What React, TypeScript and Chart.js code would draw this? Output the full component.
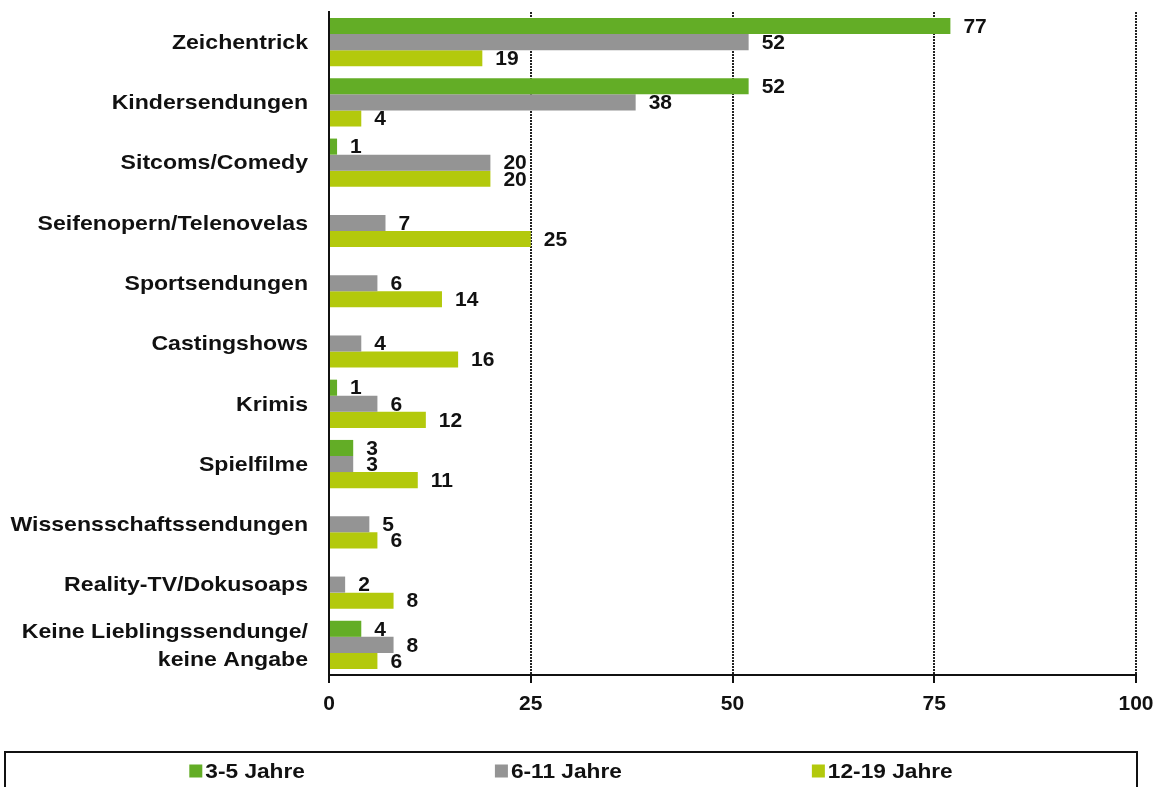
import React, { useEffect, useRef } from "react";
import { Chart, registerables } from "chart.js";

Chart.register(...registerables);

const categories: (string | string[])[] = [
  "Zeichentrick",
  "Kindersendungen",
  "Sitcoms/Comedy",
  "Seifenopern/Telenovelas",
  "Sportsendungen",
  "Castingshows",
  "Krimis",
  "Spielfilme",
  "Wissensschaftssendungen",
  "Reality-TV/Dokusoaps",
  ["Keine Lieblingssendunge/", "keine Angabe"],
];

const age3to5: (number | null)[] = [77, 52, 1, null, null, null, 1, 3, null, null, 4];
const age6to11: (number | null)[] = [52, 38, 20, 7, 6, 4, 6, 3, 5, 2, 8];
const age12to19: (number | null)[] = [19, 4, 20, 25, 14, 16, 12, 11, 6, 8, 6];

const seriesNames = ["3-5 Jahre", "6-11 Jahre", "12-19 Jahre"];
const seriesColors = ["#63ad26", "#949494", "#b3c90c"];

const xTicks = [0, 25, 50, 75, 100];

const FONT = "'Liberation Sans', Arial, sans-serif";

const dataLabelPlugin = {
  id: "dataLabels",
  afterDatasetsDraw(chart: any) {
    const ctx = chart.ctx;
    ctx.save();
    ctx.font = `bold 21px ${FONT}`;
    ctx.fillStyle = "#111";
    ctx.textAlign = "left";
    ctx.textBaseline = "middle";
    chart.data.datasets.forEach((ds: any, di: number) => {
      const meta = chart.getDatasetMeta(di);
      meta.data.forEach((el: any, i: number) => {
        const v = ds.data[i];
        if (v === null || v === undefined) return;
        ctx.fillText(String(v), el.x + 13, el.y + 1);
      });
    });
    ctx.restore();
  },
};

const yLabelPlugin = {
  id: "yLabels",
  afterDraw(chart: any) {
    const ctx = chart.ctx;
    const scale = chart.scales.y;
    const right = chart.chartArea.left - 21;
    ctx.save();
    ctx.font = `bold 21px ${FONT}`;
    ctx.fillStyle = "#111";
    ctx.textAlign = "right";
    ctx.textBaseline = "middle";
    chart.data.labels.forEach((lab: any, i: number) => {
      const lines = Array.isArray(lab) ? lab : [lab];
      const y = scale.getPixelForTick(i);
      const lh = 28;
      lines.forEach((line: string, li: number) => {
        const ly = y + (li - (lines.length - 1) / 2) * lh;
        ctx.save();
        ctx.translate(right, ly);
        ctx.scale(1.1, 1);
        ctx.fillText(line, 0, 1);
        ctx.restore();
      });
    });
    ctx.restore();
  },
};

const legendPlugin = {
  id: "boxLegend",
  afterDraw(chart: any) {
    const ctx = chart.ctx;
    const boxLeft = 5;
    const boxRight = 1137;
    const boxTop = 752;
    ctx.save();
    ctx.strokeStyle = "#111";
    ctx.lineWidth = 2;
    ctx.strokeRect(boxLeft, boxTop, boxRight - boxLeft, 80);
    ctx.font = `bold 21px ${FONT}`;
    const stretch = 1.08;
    const marker = 13;
    const markerGap = 3;
    const gap = 190;
    const widths = chart.data.datasets.map(
      (ds: any) => marker + markerGap + ctx.measureText(ds.label).width * stretch
    );
    const total = widths.reduce((a: number, b: number) => a + b, 0) + gap * (widths.length - 1);
    let x = (boxLeft + boxRight) / 2 - total / 2;
    const cy = 771;
    chart.data.datasets.forEach((ds: any, i: number) => {
      ctx.fillStyle = ds.backgroundColor;
      ctx.fillRect(x, cy - marker / 2, marker, marker);
      ctx.fillStyle = "#111";
      ctx.textAlign = "left";
      ctx.textBaseline = "middle";
      ctx.save();
      ctx.translate(x + marker + markerGap, cy + 1);
      ctx.scale(stretch, 1);
      ctx.fillText(ds.label, 0, 0);
      ctx.restore();
      x += widths[i] + gap;
    });
    ctx.restore();
  },
};

export default function App() {
  const ref = useRef<HTMLCanvasElement | null>(null);

  useEffect(() => {
    document.body.style.margin = "0";
    const canvas = ref.current;
    if (!canvas) return;
    const chart = new Chart(canvas, {
      type: "bar",
      data: {
        labels: categories as any,
        datasets: [age3to5, age6to11, age12to19].map((d, i) => ({
          label: seriesNames[i],
          data: d,
          backgroundColor: seriesColors[i],
          borderWidth: 0,
          barPercentage: 1,
          categoryPercentage: 0.8,
        })),
      },
      options: {
        indexAxis: "y",
        animation: false,
        responsive: true,
        maintainAspectRatio: false,
        layout: { padding: { top: 12, right: 28, bottom: 72, left: 0 } },
        plugins: {
          legend: { display: false },
          tooltip: { enabled: false },
        },
        scales: {
          x: {
            type: "linear",
            min: xTicks[0],
            max: xTicks[xTicks.length - 1],
            afterFit: (s: any) => {
              s.height = 40;
            },
            afterBuildTicks: (s: any) => {
              s.ticks = xTicks.map((v) => ({ value: v }));
            },
            ticks: {
              font: { family: FONT, size: 21, weight: "bold" },
              color: "#111",
              padding: 9,
            },
            grid: {
              display: true,
              color: "#222",
              lineWidth: 2,
              drawTicks: true,
              tickLength: 8,
              tickColor: "#111",
              tickWidth: 2,
              tickBorderDash: [],
            },
            border: { display: true, color: "#111", width: 2, dash: [2, 1] },
          },
          y: {
            type: "category",
            afterFit: (s: any) => {
              s.width = 329;
            },
            ticks: { display: false },
            grid: { display: false },
            border: { display: true, color: "#111", width: 2 },
          },
        },
      },
      plugins: [dataLabelPlugin, yLabelPlugin, legendPlugin],
    });
    return () => chart.destroy();
  }, []);

  return (
    <div style={{ position: "fixed", left: 0, top: 0, width: 1164, height: 787, background: "#fff" }}>
      <canvas ref={ref} />
    </div>
  );
}
